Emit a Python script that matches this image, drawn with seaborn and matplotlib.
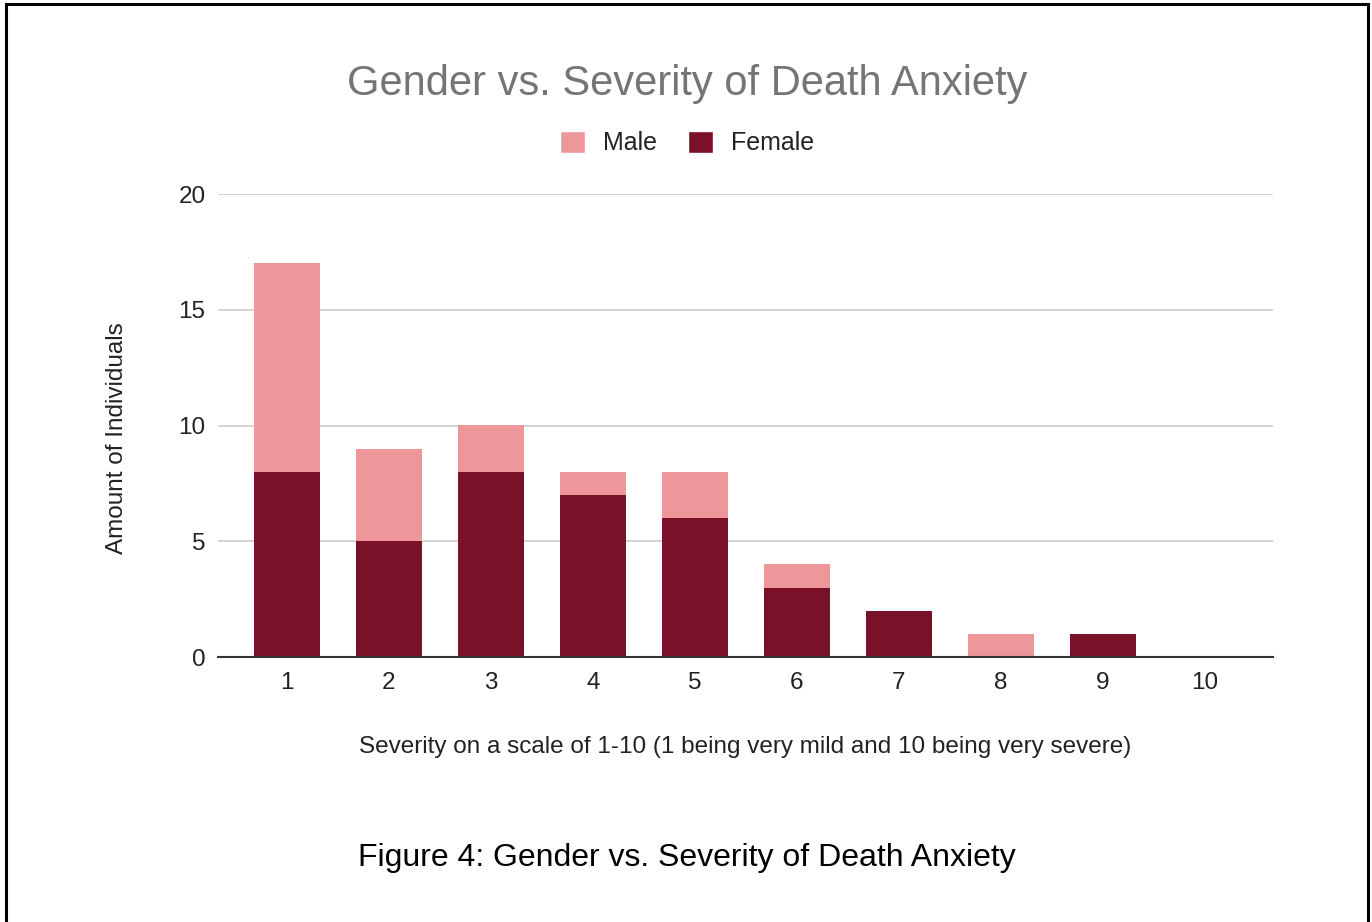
import matplotlib
matplotlib.use("Agg")
import matplotlib.pyplot as plt
from matplotlib.patches import Patch, Rectangle
import seaborn as sns
import pandas as pd

severity = ["1", "2", "3", "4", "5", "6", "7", "8", "9", "10"]
female = [8, 5, 8, 7, 6, 3, 2, 0, 1, 0]
male = [9, 4, 2, 1, 2, 1, 0, 1, 0, 0]

male_color = "#EE979B"
female_color = "#7B1128"

sns.set_theme(style="white")
plt.rcParams["font.family"] = ["Liberation Sans", "DejaVu Sans"]

df = pd.DataFrame({"severity": severity, "female": female, "male": male})

fig = plt.figure(figsize=(13.72, 9.22), dpi=100)
ax = fig.add_axes([218 / 1372, 1 - 657 / 922, (1273 - 218) / 1372, (657 - 194) / 922])

sns.barplot(data=df, x="severity", y="female", color=female_color, width=0.65,
            saturation=1, ax=ax, zorder=3, linewidth=0)
sns.barplot(data=df, x="severity", y="male", color=male_color, width=0.65,
            saturation=1, ax=ax, zorder=3, linewidth=0, bottom=df["female"])

ax.set_ylim(0, 20)
ax.set_xlim(-0.676, 9.667)
ax.set_yticks([0, 5, 10, 15, 20])
ax.yaxis.grid(True, color="#CCCCCC", linewidth=1.2, zorder=0)
ax.set_axisbelow(True)
for s in ["top", "right", "left"]:
    ax.spines[s].set_visible(False)
ax.spines["bottom"].set_color("#333333")
ax.spines["bottom"].set_linewidth(1.5)
ax.spines["bottom"].set_zorder(4)
ax.tick_params(axis="both", length=0, labelsize=17.5, colors="#222222")
ax.tick_params(axis="x", pad=11)
ax.tick_params(axis="y", pad=9)

ax.set_xlabel("Severity on a scale of 1-10 (1 being very mild and 10 being very severe)",
              fontsize=17.5, color="#222222", labelpad=30)
ax.set_ylabel("Amount of Individuals", fontsize=17.5, color="#222222", labelpad=36)
ax.yaxis.label.set_y(0.472)

fig.text(687 / 1372, 1 - 84 / 922, "Gender vs. Severity of Death Anxiety",
         ha="center", va="center", fontsize=30, color="#757575")

handles = [Patch(facecolor=male_color, label="Male"),
           Patch(facecolor=female_color, label="Female")]
fig.legend(handles=handles, loc="center", bbox_to_anchor=(687 / 1372, 1 - 143 / 922),
           ncol=2, frameon=False, fontsize=18, handlelength=1.0, handleheight=1.0,
           columnspacing=1.25, handletextpad=0.7, labelcolor="#222222")

fig.text(687 / 1372, 1 - 858 / 922, "Figure 4: Gender vs. Severity of Death Anxiety",
         ha="center", va="center", fontsize=23, color="#000000")

fig.patches.append(Rectangle((6 / 1372, -0.05), (1368 - 6) / 1372, 1.05 - 4 / 922,
                             transform=fig.transFigure, fill=False,
                             edgecolor="#000000", linewidth=2.2))

fig.savefig("out.png", dpi=100, facecolor="white")
